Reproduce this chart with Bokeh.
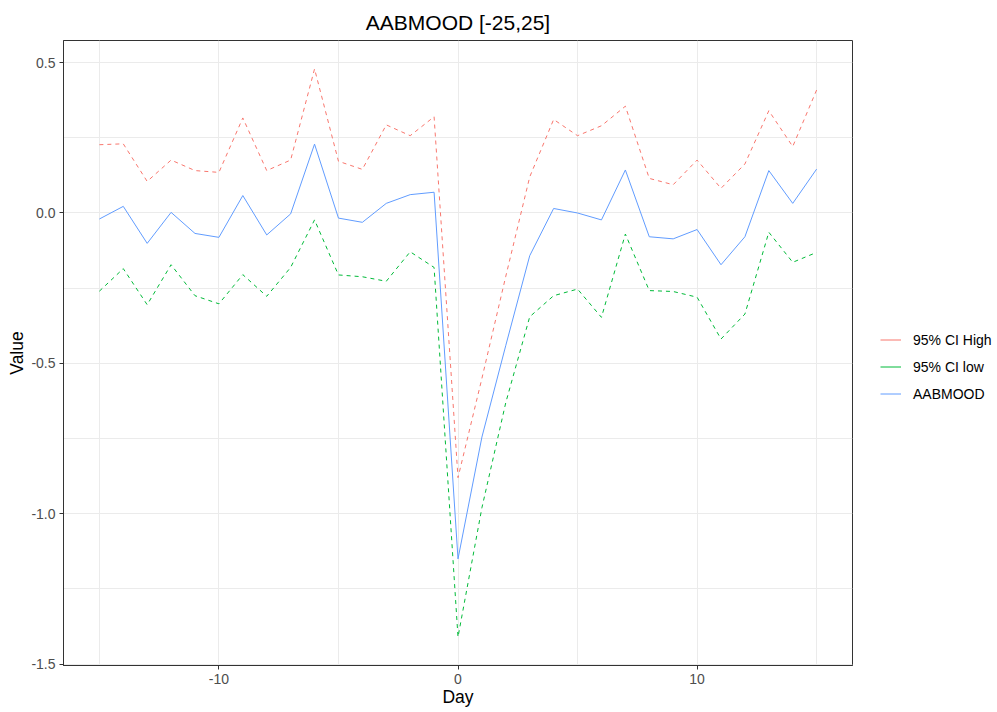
from bokeh.plotting import figure
from bokeh.models import Legend, LegendItem, FixedTicker, Range1d
from bokeh.embed import file_html
from bokeh.resources import INLINE

days = list(range(-15, 16))
ci_high = [0.227, 0.230, 0.105, 0.176, 0.141, 0.135, 0.316, 0.141, 0.176, 0.479,
           0.172, 0.145, 0.293, 0.257, 0.320, -0.880, -0.550, -0.210, 0.120, 0.311,
           0.257, 0.290, 0.355, 0.115, 0.094, 0.176, 0.082, 0.163, 0.340, 0.221, 0.409]
mood = [-0.020, 0.022, -0.101, 0.002, -0.068, -0.081, 0.058, -0.073, -0.003, 0.229,
        -0.017, -0.031, 0.032, 0.061, 0.069, -1.150, -0.745, -0.440, -0.142, 0.015,
        0.000, -0.023, 0.143, -0.079, -0.086, -0.055, -0.172, -0.079, 0.141, 0.032, 0.146]
ci_low = [-0.260, -0.185, -0.305, -0.172, -0.275, -0.302, -0.205, -0.277, -0.181, -0.023,
          -0.206, -0.212, -0.227, -0.129, -0.181, -1.410, -0.980, -0.630, -0.345, -0.275,
          -0.253, -0.347, -0.070, -0.258, -0.261, -0.280, -0.419, -0.336, -0.064, -0.164, -0.131]

x_ticks = [-10, 0, 10]
x_minor = [-15, -5, 5, 15]
x_tick_labels = ["-10", "0", "10"]
y_ticks = [-1.5, -1.0, -0.5, 0.0, 0.5]
y_minor = [-1.25, -0.75, -0.25, 0.25]
y_tick_labels = ["-1.5", "-1.0", "-0.5", "0.0", "0.5"]

series_names = ["95% CI High", "95% CI low", "AABMOOD"]
series_values = [ci_high, ci_low, mood]
colors = ["#F8766D", "#00BA38", "#619CFF"]
dashes = ["4 4", "4 4", "solid"]

FONT = "Liberation Sans"
TICK_SIZE = "14px"
AXIS_TITLE_SIZE = "17.5px"

p = figure(frame_width=789, frame_height=625, output_backend="svg", toolbar_location=None,
           x_range=Range1d(-16.5, 16.5), y_range=Range1d(-1.5045, 0.5735),
           min_border_left=63, min_border_right=145, min_border_top=40,
           min_border_bottom=47, title="AABMOOD [-25,25]")
p.background_fill_color = "white"
p.border_fill_color = "white"
p.outline_line_color = "#333333"
p.outline_line_width = 1

p.title.align = "center"
p.title.text_font = FONT
p.title.text_font_size = "21px"
p.title.text_font_style = "normal"
p.title.text_color = "black"
p.title.standoff = 14

p.xaxis.ticker = FixedTicker(ticks=x_ticks, minor_ticks=x_minor)
p.yaxis.ticker = FixedTicker(ticks=y_ticks, minor_ticks=y_minor)
p.xaxis.major_label_overrides = dict(zip(x_ticks, x_tick_labels))
p.yaxis.major_label_overrides = dict(zip(y_ticks, y_tick_labels))
p.xaxis.axis_label = "Day"
p.yaxis.axis_label = "Value"
for ax in (p.xaxis, p.yaxis):
    ax.axis_line_color = "#333333"
    ax.major_tick_line_color = "#333333"
    ax.major_tick_out = 4
    ax.major_tick_in = 0
    ax.minor_tick_out = 0
    ax.minor_tick_in = 0
    ax.major_label_text_font = FONT
    ax.major_label_text_font_size = TICK_SIZE
    ax.major_label_text_color = "#4D4D4D"
    ax.axis_label_text_font = FONT
    ax.axis_label_text_font_size = AXIS_TITLE_SIZE
    ax.axis_label_text_font_style = "normal"
    ax.axis_label_text_color = "black"
p.xaxis.major_label_standoff = 4
p.yaxis.major_label_standoff = 4
p.xaxis.axis_label_standoff = 0
p.yaxis.axis_label_standoff = 1

for g in (p.xgrid, p.ygrid):
    g.grid_line_color = "#EBEBEB"
    g.grid_line_width = 1
    g.minor_grid_line_color = "#EBEBEB"
    g.minor_grid_line_width = 1

for vals, c, d in zip(series_values, colors, dashes):
    p.line(days, vals, line_color=c, line_width=1, line_dash=d)

# transparent spacer item first, so the three keys sit slightly below the panel centre
spacer = p.line(days, mood, line_alpha=0, visible=False)
items = [LegendItem(label=" ", renderers=[spacer])]
# legend keys are solid in the reference: hidden solid copies feed the legend
for name, vals, c in zip(series_names, series_values, colors):
    r = p.line(days, vals, line_color=c, line_width=1, visible=False)
    items.append(LegendItem(label=name, renderers=[r]))

legend = Legend(items=items, location="center_left")
legend.margin = 28
legend.padding = 0
legend.glyph_width = 21
legend.glyph_height = 20
legend.label_height = 20
legend.label_standoff = 12
legend.spacing = 7
legend.label_text_font = FONT
legend.label_text_font_size = TICK_SIZE
legend.label_text_color = "black"
legend.border_line_color = None
legend.background_fill_alpha = 0
legend.inactive_fill_alpha = 0
legend.click_policy = "none"
p.add_layout(legend, "right")

open("out.html", "w").write(file_html(p, INLINE))
